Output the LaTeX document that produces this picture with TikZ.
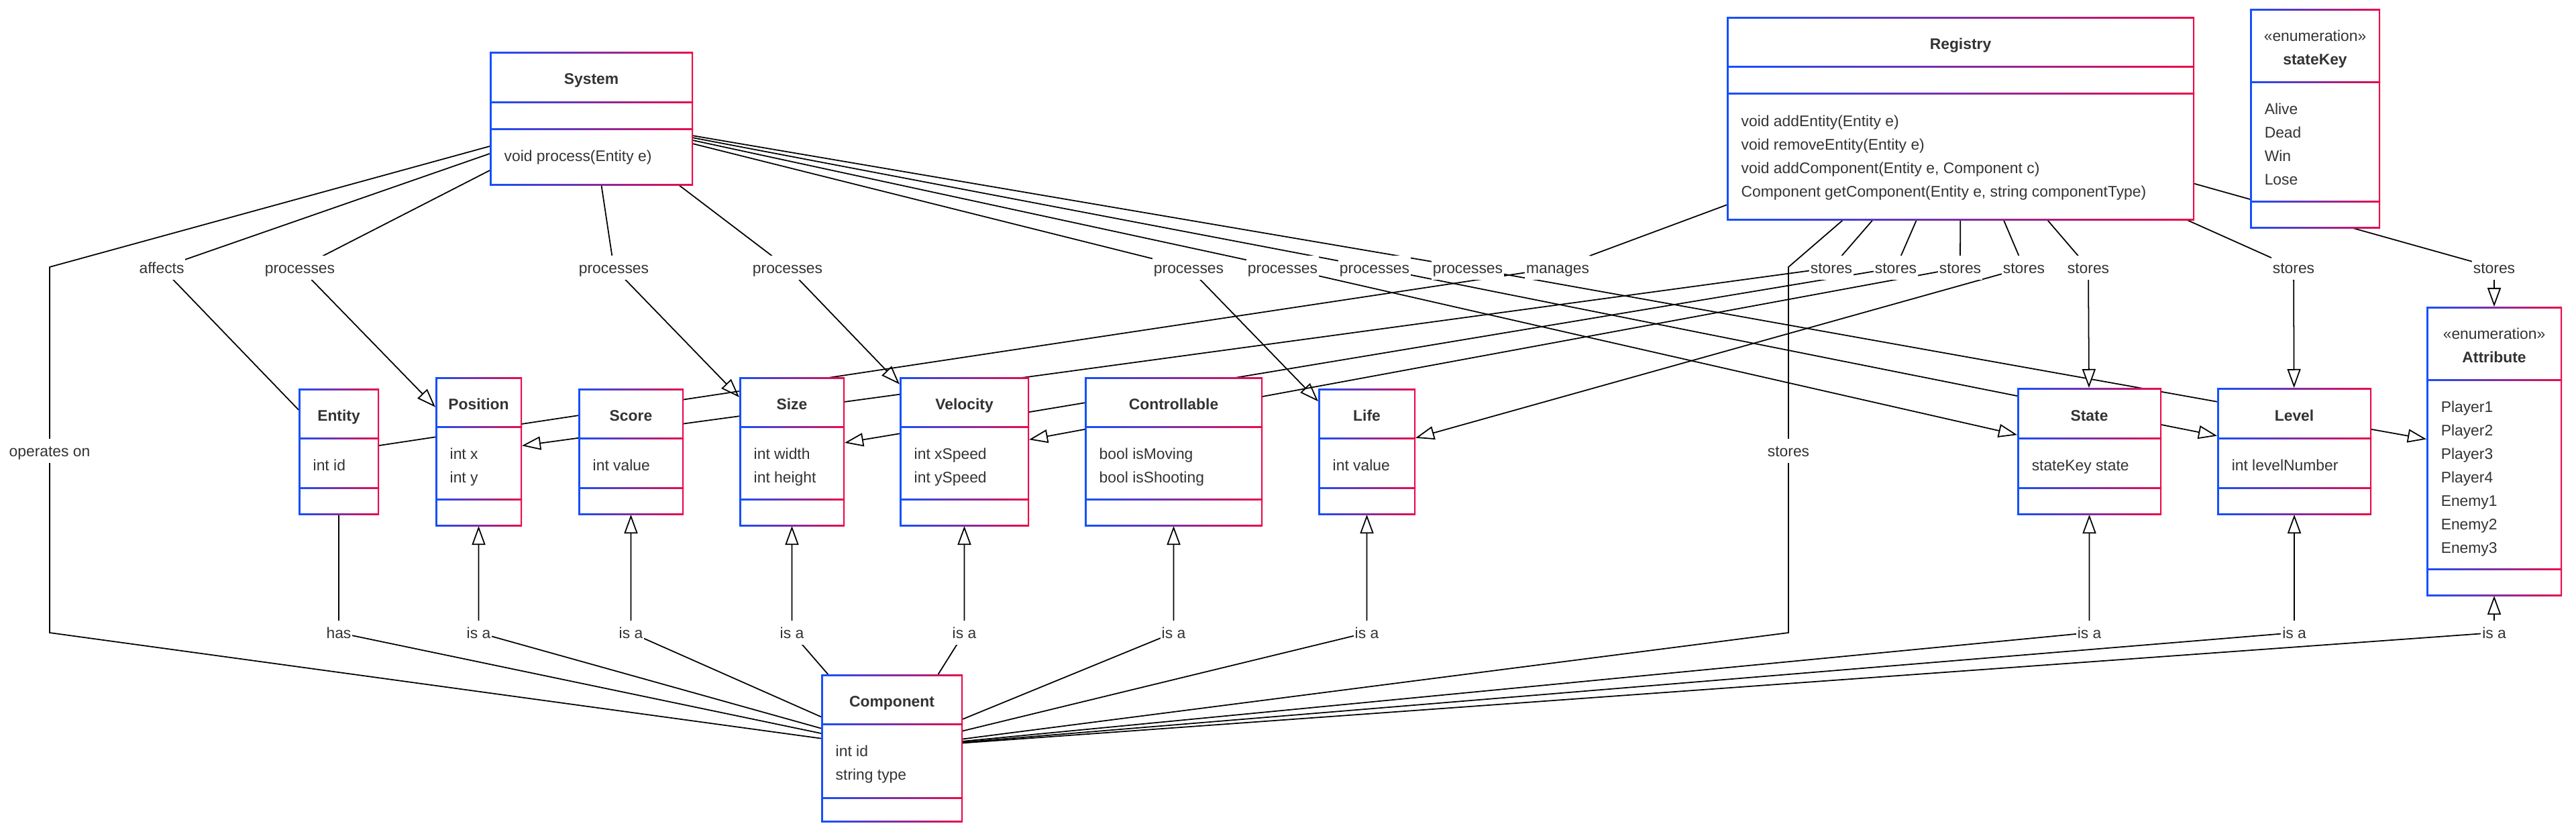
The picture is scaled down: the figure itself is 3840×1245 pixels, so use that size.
\documentclass[tikz,border=0pt]{standalone}
\usepackage{fontspec}
\setmainfont{Liberation Sans}
\usetikzlibrary{arrows.meta,fit,backgrounds}
\definecolor{clsblue}{RGB}{20,80,255}
\definecolor{clsred}{RGB}{235,10,75}
\definecolor{txtgray}{RGB}{51,51,51}
\newcommand{\umlfont}{\fontsize{6.5}{8}\selectfont}
\tikzset{
	cls/.style={rectangle,inner sep=0pt,outer sep=0pt},
	ttl/.style={font=\umlfont\bfseries,text=txtgray,inner sep=0pt,text height=0.165cm,text depth=0pt},
	fld/.style={anchor=west,text=txtgray,inner sep=0pt,text height=0.165cm,text depth=0pt},
	lbl/.style={fill=white,text=txtgray,inner xsep=0.02cm,inner ysep=0.1cm,text height=0.165cm,text depth=0pt},
	rel/.style={line width=0.5pt},
	isa/.style={rel,-{Triangle[length=0.28cm,width=0.2cm,fill=white]}},
}
% name, x1, y1, x2, y2, first and second separator
\newcommand{\umlclass}[7]{%
	\shade[left color=clsblue,right color=clsred] (#2,#3) rectangle (#4,#5);
	\fill[white] (#2+2.5,#3+2.5) rectangle (#4-2.5,#5-2.5);
	\shade[left color=clsblue,right color=clsred] (#2,#6-1) rectangle (#4,#6+1);
	\shade[left color=clsblue,right color=clsred] (#2,#7-1) rectangle (#4,#7+1);
	\node[cls,fit={(#2,#3) (#4,#5)}] (#1) {};
}
\begin{document}
\begin{tikzpicture}[x=0.01cm,y=-0.01cm,font=\umlfont]
			\useasboundingbox (0,0) rectangle (3840,1245);
			%\draw[red] (0,0) rectangle (3840,1245);
			\umlclass{system}{730}{77}{1033}{276}{152}{192}
			\umlclass{registry}{2574}{25}{3271}{328}{99}{139}
			\umlclass{statekey}{3354}{13}{3548}{340}{122}{300}
			\umlclass{entity}{445}{579}{565}{767}{653}{727}
			\umlclass{position}{649}{562}{778}{784}{636}{744}
			\umlclass{score}{862}{579}{1019}{767}{653}{727}
			\umlclass{size}{1102}{562}{1259}{784}{636}{744}
			\umlclass{velocity}{1341}{562}{1534}{784}{636}{744}
			\umlclass{controllable}{1617}{562}{1882}{784}{636}{744}
			\umlclass{life}{1965}{579}{2110}{767}{653}{727}
			\umlclass{state}{3007}{578}{3222}{767}{653}{727}
			\umlclass{level}{3305}{578}{3535}{767}{653}{727}
			\umlclass{attribute}{3617}{457}{3819}{888}{566}{848}
			\umlclass{component}{1224}{1005}{1435}{1225}{1079}{1189}
			% titles
			\node[ttl] (systemT) at (881.5,117) {System};
			\node[ttl] (registryT) at (2922.5,65) {Registry};
			\node[fld,anchor=center] (statekeyS) at (3451,53) {«enumeration»};
			\node[ttl] (statekeyT) at (3451,88) {stateKey};
			\node[ttl] (entityT) at (505,619) {Entity};
			\node[ttl] (positionT) at (713.5,602) {Position};
			\node[ttl] (scoreT) at (940.5,619) {Score};
			\node[ttl] (sizeT) at (1180.5,602) {Size};
			\node[ttl] (velocityT) at (1437.5,602) {Velocity};
			\node[ttl] (controllableT) at (1749.5,602) {Controllable};
			\node[ttl] (lifeT) at (2037.5,619) {Life};
			\node[ttl] (stateT) at (3114.5,619) {State};
			\node[ttl] (levelT) at (3420,619) {Level};
			\node[fld,anchor=center] (attributeS) at (3718,497) {«enumeration»};
			\node[ttl] (attributeT) at (3718,532) {Attribute};
			\node[ttl] (componentT) at (1329.5,1045) {Component};
			% members
			\node[fld] (systemM) at (751,232) {void process(Entity e)};
			\foreach \m [count=\i] in {void addEntity(Entity e),void removeEntity(Entity e),{void addComponent(Entity e, Component c)},{Component getComponent(Entity e, string componentType)}}
				\node[fld] (registryM\i) at (2595,145+35*\i) {\m};
			\foreach \m [count=\i] in {Alive,Dead,Win,Lose}
				\node[fld] (statekeyV\i) at (3375,127+35*\i) {\m};
			\foreach \m [count=\i] in {Player1,Player2,Player3,Player4,Enemy1,Enemy2,Enemy3}
				\node[fld] (attributeV\i) at (3638,571+35*\i) {\m};
			\node[fld] (entityF) at (466,693) {int id};
			\node[fld] (positionF1) at (670,676) {int x};
			\node[fld] (positionF2) at (670,711) {int y};
			\node[fld] (scoreF) at (883,693) {int value};
			\node[fld] (sizeF1) at (1123,676) {int width};
			\node[fld] (sizeF2) at (1123,711) {int height};
			\node[fld] (velocityF1) at (1362,676) {int xSpeed};
			\node[fld] (velocityF2) at (1362,711) {int ySpeed};
			\node[fld] (controllableF1) at (1638,676) {bool isMoving};
			\node[fld] (controllableF2) at (1638,711) {bool isShooting};
			\node[fld] (lifeF) at (1986,693) {int value};
			\node[fld] (stateF) at (3028,693) {stateKey state};
			\node[fld] (levelF) at (3326,693) {int levelNumber};
			\node[fld] (componentF1) at (1245,1119) {int id};
			\node[fld] (componentF2) at (1245,1154) {string type};
			% edge labels
			\node[lbl] (afflbl) at (241,399) {affects};
			\foreach \x [count=\i] in {447,915,1174,1772,1912,2049,2188}
				\node[lbl] (pr\i) at (\x,399) {processes};
			\node[lbl] (manlbl) at (2322,399) {manages};
			\foreach \x [count=\i] in {2730,2826,2922,3017,3113,3419,3718}
				\node[lbl] (st\i) at (\x,399) {stores};
			\node[lbl] (oplbl) at (74,672) {operates on};
			\node[lbl] (stc) at (2666,672) {stores};
			\node[lbl] (haslbl) at (505,943) {has};
			\foreach \x [count=\i] in {713.5,940.5,1180.5,1437.5,1749.5,2037.5,3114.5,3420,3718}
				\node[lbl] (isa\i) at (\x,943) {is a};
			\coordinate (oc1) at (74,398);
			\coordinate (oc2) at (74,943);
			\coordinate (rc1) at (2666,398);
			\coordinate (rc2) at (2666,943);
			\begin{pgfonlayer}{background}
			\draw[rel] (system) -- (oc1) -- (oplbl.center) -- (oc2) -- (component);
			\draw[rel] (system) -- (afflbl.center) -- (entity);
			\foreach \c [count=\i] in {position,size,velocity,life,state,level,attribute}
				\draw[isa] (system) -- (pr\i.center) -- (\c);
			\draw[rel] (registry) -- (manlbl.center) -- (entity);
			\foreach \c [count=\i] in {position,size,velocity,life,state,level,attribute}
				\draw[isa] (registry) -- (st\i.center) -- (\c);
			\draw[rel] (registry) -- (rc1) -- (stc.center) -- (rc2) -- (component);
			\draw[rel] (entity) -- (haslbl.center) -- (component);
			\foreach \c [count=\i] in {position,score,size,velocity,controllable,life,state,level,attribute}
				\draw[isa] (component) -- (isa\i.center) -- (\c);
			\end{pgfonlayer}
		\end{tikzpicture}
\end{document}
